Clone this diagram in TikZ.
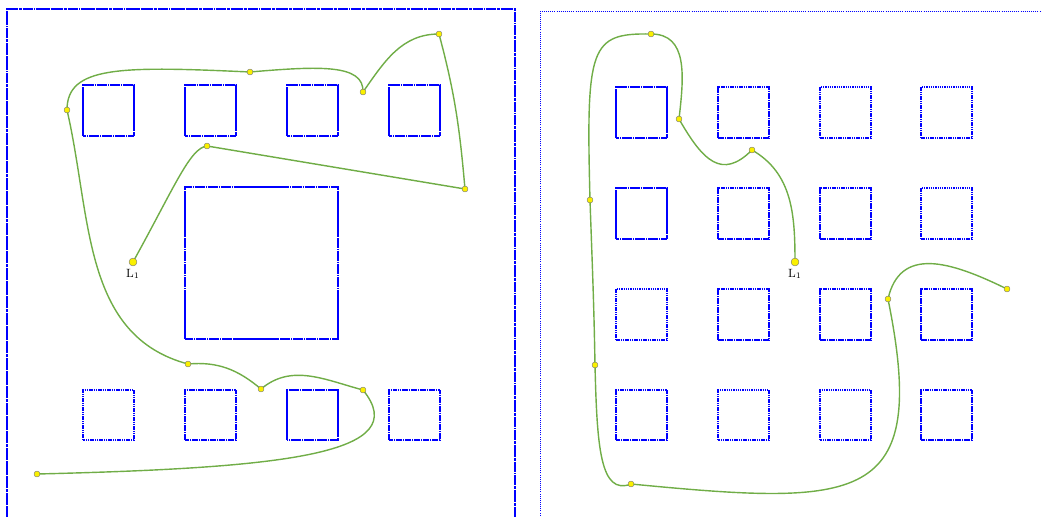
\documentclass[tikz,border=0pt]{standalone}
\usepackage{xcolor}
\usepackage{tikz}
\usetikzlibrary{backgrounds}
\definecolor{routegreen}{RGB}{112,173,71}
\definecolor{dotyellow}{RGB}{250,240,0}

\begin{document}
\begin{tikzpicture}[
    x=0.025cm, y=0.025cm,
    wall/.style={blue, line width=0.9pt, dash pattern=on 2.5pt off 0.25pt on 1pt off 0.25pt},
    wallthin/.style={blue, line width=0.6pt, dash pattern=on 0.6pt off 0.9pt},
    obsdense/.style={blue, line width=0.9pt, dash pattern=on 3pt off 0.2pt on 1.2pt off 0.2pt},
    obsmid/.style={blue, line width=0.8pt, dash pattern=on 1.2pt off 0.4pt},
    obssparse/.style={blue, line width=0.75pt, dash pattern=on 1pt off 0.6pt},
    route/.style={routegreen, line width=1pt},
    waypt/.style={circle, draw=black!55, fill=dotyellow, line width=0.3pt, inner sep=0pt, minimum size=4.2pt},
    goal/.style={waypt, minimum size=5.6pt},
    lmark/.style={font=\fontsize{8.5}{10}\selectfont, inner sep=2pt}
]
\useasboundingbox (0,0) rectangle (1042,516);
\clip (0,0) rectangle (1042,516);

% Left panel waypoints
\node[goal, label={[lmark]below:L$_1$}] (l1) at (133,254) {};
\node[waypt] (la) at (207,370) {};
\node[waypt] (lb) at (465,327) {};
\node[waypt] (lc) at (439,482) {};
\node[waypt] (ld) at (363,424) {};
\node[waypt] (le) at (250,444) {};
\node[waypt] (lf) at (67,406) {};
\node[waypt] (lg) at (188,152) {};
\node[waypt] (lh) at (261,127) {};
\node[waypt] (li) at (363,126) {};
\node[waypt] (lj) at (37,42) {};

% Right panel waypoints
\node[goal, label={[lmark]below:L$_1$}] (r1) at (795,254) {};
\node[waypt] (ra) at (752,366) {};
\node[waypt] (rb) at (679,397) {};
\node[waypt] (rc) at (651,482) {};
\node[waypt] (rd) at (590,316) {};
\node[waypt] (re) at (595,151) {};
\node[waypt] (rf) at (631,32) {};
\node[waypt] (rg) at (888,217) {};
\node[waypt] (rh) at (1007,227) {};

\begin{scope}[on background layer]
% Frames
\draw[wall] (7,-10) -- (7,507) -- (515,507) -- (515,-10);
\draw[wallthin] (540,-10) -- (540,505) -- (1060,505);

% Left obstacles
\draw[obsdense] (83,380) rectangle ++(51,51);
\draw[obsdense] (185,380) rectangle ++(51,51);
\draw[obsdense] (287,380) rectangle ++(51,51);
\draw[obsdense] (389,380) rectangle ++(51,51);
\draw[obsdense] (185,177) rectangle (338,329);
\draw[obssparse] (83,76) rectangle ++(51,50);
\draw[obsmid] (185,76) rectangle ++(51,50);
\draw[obsdense] (287,76) rectangle ++(51,50);
\draw[obsmid] (389,76) rectangle ++(51,50);

% Right obstacles
\draw[obsdense] (616,378) rectangle ++(51,51);
\draw[obsmid] (718,378) rectangle ++(51,51);
\draw[obssparse] (820,378) rectangle ++(51,51);
\draw[obssparse] (921,378) rectangle ++(51,51);
\draw[obsdense] (616,277) rectangle ++(51,51);
\draw[obsmid] (718,277) rectangle ++(51,51);
\draw[obsmid] (820,277) rectangle ++(51,51);
\draw[obssparse] (921,277) rectangle ++(51,51);
\draw[obssparse] (616,176) rectangle ++(51,51);
\draw[obsmid] (718,176) rectangle ++(51,51);
\draw[obsmid] (820,176) rectangle ++(51,51);
\draw[obsmid] (921,176) rectangle ++(51,51);
\draw[obsmid] (616,76) rectangle ++(51,50);
\draw[obssparse] (718,76) rectangle ++(51,50);
\draw[obssparse] (820,76) rectangle ++(51,50);
\draw[obsmid] (921,76) rectangle ++(51,50);

% Routes
\draw[route] (l1.center) .. controls (175,330) and (190,368) .. (la.center) -- (lb.center)
    to[out=95,in=-75] (lc.center) to[out=180,in=55] (ld.center)
    .. controls (364,452) and (320,450) .. (le.center)
    .. controls (120,450) and (67,450) .. (lf.center)
    to[out=-77,in=165] (lg.center) to[out=5,in=140] (lh.center)
    to[out=40,in=165] (li.center) .. controls (415,62) and (285,48) .. (lj.center);
\draw[route] (r1.center) to[out=90,in=-30] (ra.center)
    .. controls (722,336) and (703,355) .. (rb.center)
    .. controls (684,440) and (688,482) .. (rc.center)
    .. controls (590,483) and (586,470) .. (rd.center)
    to[out=-88,in=91] (re.center)
    .. controls (597,70) and (600,20) .. (rf.center)
    .. controls (860,10) and (930,10) .. (rg.center)
    .. controls (900,270) and (950,255) .. (rh.center);
\end{scope}

\end{tikzpicture}
\end{document}
